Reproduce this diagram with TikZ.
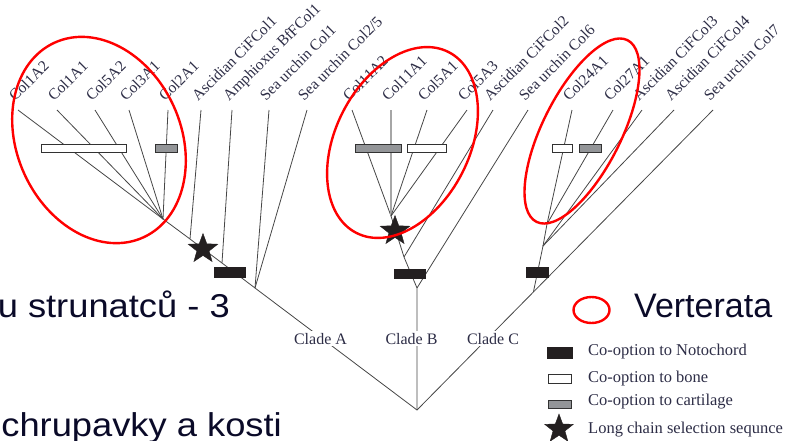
\documentclass[tikz,border=0pt]{standalone}
\usepackage{fontspec}
\setmainfont{Liberation Serif}
\newfontfamily\slidefont{Liberation Sans}
\newfontfamily\slidewide[FakeStretch=1.1]{Liberation Sans}
\usetikzlibrary{shapes.geometric}
\definecolor{treeline}{RGB}{70,70,70}
\definecolor{barblack}{RGB}{35,31,32}
\definecolor{bargray}{RGB}{147,149,152}
\definecolor{barborder}{RGB}{50,50,50}
\definecolor{labtext}{RGB}{45,45,70}
\definecolor{slidetext}{RGB}{10,10,40}
\definecolor{vred}{RGB}{255,0,0}
\begin{document}
\begin{tikzpicture}[x=1pt,y=-1pt,
  branch/.style={draw=treeline, line width=0.8pt},
  lightbranch/.style={draw=black!35, line width=1.4pt},
  taxon/.style={anchor=base west, rotate=45, inner sep=0pt, font=\fontsize{15.5}{15.5}\selectfont, text=labtext},
  cladelab/.style={anchor=base, fill=white, inner sep=1.5pt, font=\fontsize{16}{16}\selectfont, text=labtext},
  barbase/.style={rectangle, draw=barborder, line width=0.9pt, inner sep=0pt},
  notobar/.style={barbase, fill=barblack, draw=barblack},
  bonebar/.style={barbase, fill=white},
  cartbar/.style={barbase, fill=bargray},
  starmark/.style={star, star points=5, star point ratio=2.4, fill=barblack, draw=barblack, inner sep=0pt, minimum size=31pt},
  vertring/.style={draw=vred, line width=2.4pt},
  legtext/.style={anchor=base west, inner sep=0pt, font=\fontsize{16.5}{16.5}\selectfont, text=labtext},
  slidetxt/.style={inner sep=0pt, font=\slidefont\fontsize{34}{34}\selectfont, text=slidetext},
  slidewidetxt/.style={inner sep=0pt, font=\slidewide\fontsize{33}{33}\selectfont, text=slidetext}
]
\useasboundingbox (0,0) rectangle (788,440);

% ---------- tree coordinates ----------
\coordinate (root) at (417,410);
% clade A
\coordinate (nA) at (255,288);
\coordinate (mA) at (222,263);
\coordinate (aA) at (190,239);
\coordinate (vA) at (163,219);
\coordinate (tCola) at (18,110);
\coordinate (tColb) at (57,110);
\coordinate (tColc) at (95,110);
\coordinate (tCold) at (129,110);
\coordinate (tCole) at (168,110);
\coordinate (tAscA) at (201,110);
\coordinate (tAmph) at (232,110);
\coordinate (tSeaA) at (269,110);
\coordinate (tSeaB) at (307,110);
% clade B
\coordinate (nB) at (417,288);
\coordinate (sB) at (404,257);
\coordinate (vB) at (391,216);
\coordinate (tColf) at (352,110);
\coordinate (tColg) at (391,110);
\coordinate (tColh) at (427,110);
\coordinate (tColi) at (467,110);
\coordinate (tAscB) at (493,110);
\coordinate (tSeaC) at (528,110);
% clade C
\coordinate (nC) at (533.4,292);
\coordinate (sC) at (543,246);
\coordinate (vC) at (547,224);
\coordinate (tColj) at (572,110);
\coordinate (tColk) at (613,110);
\coordinate (tAscC) at (642,110);
\coordinate (tAscD) at (674,110);
\coordinate (tSeaD) at (713,110);

% ---------- branches ----------
\draw[branch] (root) -- (nA) -- (mA) -- (aA) -- (vA) -- (tCola);
\draw[branch] (vA) -- (tColb);
\draw[branch] (vA) -- (tColc);
\draw[branch] (vA) -- (tCold);
\draw[branch] (vA) -- (tCole);
\draw[branch] (aA) -- (tAscA);
\draw[branch] (mA) -- (tAmph);
\draw[branch] (nA) -- (tSeaA);
\draw[branch] (nA) -- (tSeaB);

\draw[branch] (root) -- (nB) -- (sB) -- (vB);
\draw[branch] (vB) -- (tColf);
\draw[lightbranch] (vB) -- (tColg);
\draw[branch] (vB) -- (tColh);
\draw[branch] (vB) -- (tColi);
\draw[branch] (sB) -- (tAscB);
\draw[branch] (nB) -- (tSeaC);

\draw[branch] (root) -- (nC) -- (tSeaD);
\draw[branch] (nC) -- (sC) -- (vC);
\draw[branch] (sC) -- (tAscC);
\draw[branch] (sC) -- (tAscD);
\draw[branch] (vC) -- (tColj);
\draw[branch] (vC) -- (tColk);

% ---------- taxon labels ----------
\node[taxon] (lCola) at ([shift={(-3,-8)}]tCola) {Col1A2};
\node[taxon] (lColb) at ([shift={(-3,-8)}]tColb) {Col1A1};
\node[taxon] (lColc) at ([shift={(-3,-8)}]tColc) {Col5A2};
\node[taxon] (lCold) at ([shift={(-3,-8)}]tCold) {Col3A1};
\node[taxon] (lCole) at ([shift={(-3,-8)}]tCole) {Col2A1};
\node[taxon] (lAscA) at ([shift={(-3,-8)}]tAscA) {Ascidian CiFCol1};
\node[taxon] (lAmph) at ([shift={(-3,-8)}]tAmph) {Amphioxus BfFCol1};
\node[taxon] (lSeaA) at ([shift={(-3,-8)}]tSeaA) {Sea urchin Col1};
\node[taxon] (lSeaB) at ([shift={(-3,-8)}]tSeaB) {Sea urchin Col2/5};
\node[taxon] (lColf) at ([shift={(-3,-8)}]tColf) {Col11A2};
\node[taxon] (lColg) at ([shift={(-3,-8)}]tColg) {Col11A1};
\node[taxon] (lColh) at ([shift={(-3,-8)}]tColh) {Col5A1};
\node[taxon] (lColi) at ([shift={(-3,-8)}]tColi) {Col5A3};
\node[taxon] (lAscB) at ([shift={(-3,-8)}]tAscB) {Ascidian CiFCol2};
\node[taxon] (lSeaC) at ([shift={(-3,-8)}]tSeaC) {Sea urchin Col6};
\node[taxon] (lColj) at ([shift={(-3,-8)}]tColj) {Col24A1};
\node[taxon] (lColk) at ([shift={(-3,-8)}]tColk) {Col27A1};
\node[taxon] (lAscC) at ([shift={(-3,-8)}]tAscC) {Ascidian CiFCol3};
\node[taxon] (lAscD) at ([shift={(-3,-8)}]tAscD) {Ascidian CiFCol4};
\node[taxon] (lSeaD) at ([shift={(-3,-8)}]tSeaD) {Sea urchin Col7};

% ---------- bars and stars on the tree ----------
\node[bonebar, minimum width=85pt, minimum height=8.5pt] (boneA) at (83.5,148.3) {};
\node[cartbar, minimum width=22pt, minimum height=8.5pt] (cartA) at (166,148.3) {};
\node[cartbar, minimum width=46pt, minimum height=8.5pt] (cartB) at (378,148.5) {};
\node[bonebar, minimum width=39pt, minimum height=8.5pt] (boneB) at (426.5,148.5) {};
\node[bonebar, minimum width=20pt, minimum height=8.5pt] (boneC) at (562,148.5) {};
\node[cartbar, minimum width=22pt, minimum height=8.5pt] (cartC) at (590,148.5) {};
\node[notobar, minimum width=31pt, minimum height=10pt] (notoA) at (229.5,272.5) {};
\node[notobar, minimum width=31pt, minimum height=9pt] (notoB) at (409.5,273.5) {};
\node[notobar, minimum width=22pt, minimum height=10pt] (notoC) at (537,272) {};
\node[starmark] (starA) at (203,249) {};
\node[starmark] (starB) at (395,231) {};

% ---------- vertebrate ellipses ----------
\draw[vertring, rotate around={-65.5:(99,140)}] (99,140) ellipse [x radius=107pt, y radius=82pt];
\draw[vertring, rotate around={63:(402.5,142.5)}] (402.5,142.5) ellipse [x radius=101.5pt, y radius=67pt];
\draw[vertring, rotate around={63.4:(582,131)}] (582,131) ellipse [x radius=101.6pt, y radius=39.3pt];

% ---------- clade labels ----------
\node[cladelab] (cladeA) at (320.5,344) {Clade A};
\node[cladelab] (cladeB) at (411.5,344) {Clade B};
\node[cladelab] (cladeC) at (493,344) {Clade C};

% ---------- legend ----------
\node[ellipse, draw=vred, line width=2.4pt, minimum width=36pt, minimum height=26pt, inner sep=0pt] (legring) at (591.5,310) {};
\node[slidetxt, anchor=base west] (legvert) at (634,317.5) {Verterata};
\node[notobar, minimum width=25pt, minimum height=11pt] (legnoto) at (559.5,352.5) {};
\node[legtext] (legnototxt) at (588,355) {Co-option to Notochord};
\node[bonebar, minimum width=23pt, minimum height=9pt] (legbone) at (559.5,378.5) {};
\node[legtext] (legbonetxt) at (588,382) {Co-option to bone};
\node[cartbar, minimum width=23pt, minimum height=8pt] (legcart) at (559.5,404.5) {};
\node[legtext] (legcarttxt) at (588,405) {Co-option to cartilage};
\node[starmark, minimum size=30pt] (legstar) at (559,429) {};
\node[legtext] (legstartxt) at (588,433) {Long chain selection sequnce};

% ---------- slide text fragments ----------
\node[slidewidetxt, anchor=base east] (slideA) at (230,317.5) {u strunatců - 3};
\node[slidewidetxt, anchor=base east] (slideB) at (282,436) {chrupavky a kosti};
\end{tikzpicture}
\end{document}
